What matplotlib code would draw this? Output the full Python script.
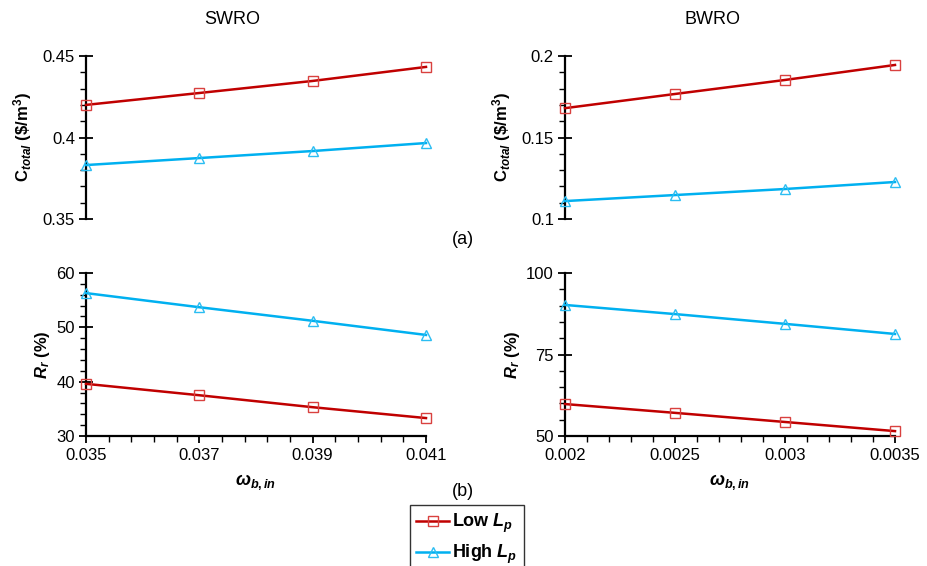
import matplotlib
matplotlib.use("Agg")
import matplotlib.pyplot as plt
import numpy as np
from matplotlib.ticker import FixedLocator, FuncFormatter

plt.rcParams['font.family'] = ['Liberation Sans', 'DejaVu Sans']
plt.rcParams['mathtext.fontset'] = 'custom'
plt.rcParams['mathtext.rm'] = 'Liberation Sans:bold'
plt.rcParams['mathtext.bf'] = 'Liberation Sans:bold'
plt.rcParams['mathtext.it'] = 'Liberation Sans:italic:bold'
plt.rcParams['mathtext.sf'] = 'Liberation Sans:bold'

# ---- data ----
sw_x = [0.035, 0.037, 0.039, 0.041]
bw_x = [0.002, 0.0025, 0.003, 0.0035]

sw_cost_low = [0.420, 0.4273, 0.4347, 0.4433]
sw_cost_high = [0.3831, 0.3874, 0.3917, 0.3966]
bw_cost_low = [0.168, 0.1767, 0.1853, 0.1945]
bw_cost_high = [0.111, 0.1147, 0.1184, 0.1227]

sw_rr_high = [56.3, 53.7, 51.2, 48.6]
sw_rr_low = [39.6, 37.5, 35.3, 33.3]
bw_rr_high = [90.2, 87.4, 84.4, 81.3]
bw_rr_low = [59.8, 57.1, 54.3, 51.5]

sw_cost_ticks = [0.35, 0.4, 0.45]
bw_cost_ticks = [0.1, 0.15, 0.2]
sw_rr_ticks = [30, 40, 50, 60]
bw_rr_ticks = [50, 75, 100]

titles = ["SWRO", "BWRO"]
series_labels = [r"Low $L_p$", r"High $L_p$"]

RED = "#C00000"
BLUE = "#00B0F0"

W, H = 928, 566
fig = plt.figure(figsize=(W / 100, H / 100), dpi=100)

def ax_at(l, t, r, b):
    return fig.add_axes([l / W, 1 - b / H, (r - l) / W, (b - t) / H])

ax_tl = ax_at(86, 56, 426, 219)
ax_tr = ax_at(565, 56, 895, 219)
ax_bl = ax_at(86, 273, 426, 436)
ax_br = ax_at(565, 273, 895, 436)

fmt = FuncFormatter(lambda v, p: "%g" % round(v, 6))

def minor_between(ticks, n):
    out = []
    for a, b in zip(ticks[:-1], ticks[1:]):
        out.extend(np.linspace(a, b, n + 1)[1:-1])
    return out

def style(ax, yticks, yn, xticks=None, xn=None):
    ax.set_ylim(yticks[0], yticks[-1])
    for s in ["top", "right"]:
        ax.spines[s].set_visible(False)
    ax.spines["left"].set_linewidth(1.6)
    ax.spines["bottom"].set_linewidth(1.6)
    ax.yaxis.set_major_locator(FixedLocator(yticks))
    ax.yaxis.set_minor_locator(FixedLocator(minor_between(yticks, yn)))
    ax.yaxis.set_major_formatter(fmt)
    ax.tick_params(axis="y", which="major", direction="inout", length=10, width=1.3, labelsize=12, pad=3)
    ax.tick_params(axis="y", which="minor", direction="out", length=4, width=1)
    if xticks is not None:
        ax.set_xlim(xticks[0], xticks[-1])
        ax.xaxis.set_major_locator(FixedLocator(xticks))
        ax.xaxis.set_minor_locator(FixedLocator(minor_between(xticks, xn)))
        ax.xaxis.set_major_formatter(fmt)
        ax.tick_params(axis="x", which="major", direction="out", length=5, width=1.3, labelsize=12, pad=4)
        ax.tick_params(axis="x", which="minor", direction="out", length=4, width=1)
    else:
        ax.spines["bottom"].set_visible(False)
        ax.tick_params(axis="x", which="both", bottom=False, labelbottom=False)

def plot_pair(ax, x, low, high):
    l1, = ax.plot(x, low, color=RED, lw=1.8, marker="s", ms=7, mfc="none", mec="#D9413F", mew=1.0, clip_on=False, zorder=3)
    l2, = ax.plot(x, high, color=BLUE, lw=1.8, marker="^", ms=7, mfc="none", mec="#2BBDF2", mew=1.0, clip_on=False, zorder=3)
    ax.set_xlim(x[0], x[-1])
    return l1, l2

h = plot_pair(ax_tl, sw_x, sw_cost_low, sw_cost_high)
plot_pair(ax_tr, bw_x, bw_cost_low, bw_cost_high)
plot_pair(ax_bl, sw_x, sw_rr_low, sw_rr_high)
plot_pair(ax_br, bw_x, bw_rr_low, bw_rr_high)

style(ax_tl, sw_cost_ticks, 5)
style(ax_tr, bw_cost_ticks, 5)
style(ax_bl, sw_rr_ticks, 5, sw_x, 5)
style(ax_br, bw_rr_ticks, 5, bw_x, 5)

cost_label = r"$\mathrm{C}_{total}$ (\$/m$^{\mathrm{3}}$)"
rr_label = r"$R_r$ (%)"
for ax in (ax_tl, ax_tr):
    ax.set_ylabel(cost_label, fontsize=12, fontweight="bold", labelpad=6)
for ax in (ax_bl, ax_br):
    ax.set_ylabel(rr_label, fontsize=12, fontweight="bold", labelpad=3)
    ax.set_xlabel(r"$ω_{b,in}$", fontsize=13, labelpad=6)

fig.text(232 / W, 1 - 20 / H, titles[0], ha="center", va="center", fontsize=13)
fig.text(713 / W, 1 - 20 / H, titles[1], ha="center", va="center", fontsize=13)
fig.text(463 / W, 1 - 240 / H, "(a)", ha="center", va="center", fontsize=13)
fig.text(463 / W, 1 - 492 / H, "(b)", ha="center", va="center", fontsize=13)

leg = fig.legend(h, series_labels, loc="upper center", bbox_to_anchor=(467 / W, 1 - 500 / H),
                 frameon=True, fancybox=False, edgecolor="black",
                 prop={"weight": "bold", "size": 13}, handlelength=1.8, borderpad=0.35,
                 labelspacing=0.45, handletextpad=0.2, borderaxespad=0.3)
leg.get_frame().set_linewidth(1.0)

fig.savefig("out.png", dpi=100)
